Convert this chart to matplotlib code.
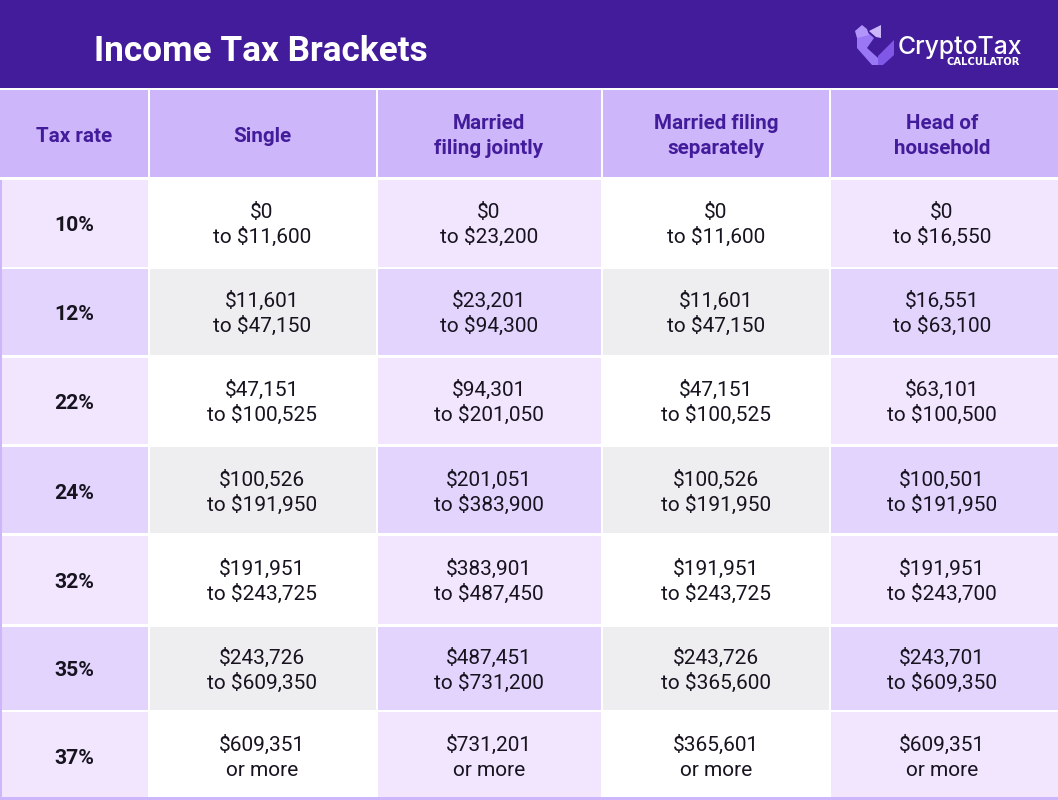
import matplotlib
matplotlib.use("Agg")
import matplotlib.pyplot as plt
from matplotlib.patches import Rectangle, Polygon

title = "Income Tax Brackets"
headers = ["Tax rate", "Single", "Married\nfiling jointly", "Married filing\nseparately", "Head of\nhousehold"]
rates = ["10%", "12%", "22%", "24%", "32%", "35%", "37%"]
single = ["$0\nto $11,600", "$11,601\nto $47,150", "$47,151\nto $100,525", "$100,526\nto $191,950",
          "$191,951\nto $243,725", "$243,726\nto $609,350", "$609,351\nor more"]
joint = ["$0\nto $23,200", "$23,201\nto $94,300", "$94,301\nto $201,050", "$201,051\nto $383,900",
         "$383,901\nto $487,450", "$487,451\nto $731,200", "$731,201\nor more"]
separate = ["$0\nto $11,600", "$11,601\nto $47,150", "$47,151\nto $100,525", "$100,526\nto $191,950",
            "$191,951\nto $243,725", "$243,726\nto $365,600", "$365,601\nor more"]
household = ["$0\nto $16,550", "$16,551\nto $63,100", "$63,101\nto $100,500", "$100,501\nto $191,950",
             "$191,951\nto $243,700", "$243,701\nto $609,350", "$609,351\nor more"]
columns = [rates, single, joint, separate, household]

col_edges = [(2, 148), (150, 376), (378, 601), (603, 829), (831, 1058)]
col_text_x = [74.5, 262, 489, 716, 942]
row_edges = [(180, 267), (269, 355), (358, 444), (447, 533), (536, 624), (627, 710), (712, 797)]
row_text_y = [223.5, 312.5, 401.5, 491.5, 580.5, 669, 756]
head_edge = (90, 177)

DARK = "#431c9c"
HEAD = "#cdb7fa"
LIGHT_P = "#f2e6fe"
MID_P = "#e2d4fd"
GREY = "#eeedf0"
TEXT = "#17131f"

plt.rcParams["font.family"] = ["Roboto", "DejaVu Sans"]
fig = plt.figure(figsize=(10.58, 8), dpi=100, facecolor="white")
ax = fig.add_axes([0, 0, 1, 1])
ax.set_xlim(0, 1058)
ax.set_ylim(800, 0)
ax.axis("off")


def box(x0, x1, y0, y1, color):
    ax.add_patch(Rectangle((x0, y0), x1 - x0, y1 - y0, fc=color, ec="none", lw=0))


def lines(x, baselines, label, **kw):
    for y, part in zip(baselines, label.split("\n")):
        ax.text(x, y, part, ha="center", va="baseline", **kw)


box(0, 1058, 0, 88, DARK)
box(0, 2, 180, 800, HEAD)
box(0, 1058, 797, 800, HEAD)
ax.text(94.5, 51.5, title, color="white", fontsize=25.3, fontweight="bold", ha="left", va="center")

for i, ((x0, x1), name) in enumerate(zip(col_edges, headers)):
    box(0 if i == 0 else x0, x1, *head_edge, HEAD)
    baselines = [129, 154] if "\n" in name else [141.5]
    lines(col_text_x[i], baselines, name, color=DARK, fontsize=14.9, fontweight="bold")

for c, ((x0, x1), col) in enumerate(zip(col_edges, columns)):
    for r, ((y0, y1), label) in enumerate(zip(row_edges, col)):
        odd = r % 2 == 1
        if c % 2 == 0:
            fill = MID_P if odd else LIGHT_P
        else:
            fill = GREY if odd else "white"
        box(x0, x1, y0, y1, fill)
        ty = row_text_y[r]
        if c == 0:
            lines(col_text_x[c], [ty + 7.5], label, color=TEXT, fontsize=15.2, fontweight="bold")
        else:
            lines(col_text_x[c], [ty - 5.5, ty + 19.5], label, color=TEXT, fontsize=15)

# logo
ax.add_patch(Polygon([(857, 33), (867, 32), (874, 38), (867, 48), (878, 58), (878, 65), (872, 65), (857, 48)],
                     fc="#9a78f5", ec="none"))
ax.add_patch(Polygon([(855, 31), (862, 25), (867, 29), (869, 35), (857, 38)], fc="#b295fa", ec="none"))
ax.add_patch(Polygon([(869, 31), (881, 25), (881, 38), (876, 37)], fc="#cdb7fa", ec="none"))
ax.add_patch(Polygon([(878, 56), (894, 40), (894, 55), (883, 65), (878, 65)], fc="#7f58e8", ec="none"))
ax.text(898, 47.5, "CryptoTax", color="white", fontsize=17.8, fontweight="medium", family="Inter",
        ha="left", va="center")
ax.text(1020, 62, "CALCULATOR", color="white", fontsize=7.2, fontweight="bold", family="DejaVu Sans",
        ha="right", va="center")

fig.savefig("out.png", dpi=100, facecolor="white")
